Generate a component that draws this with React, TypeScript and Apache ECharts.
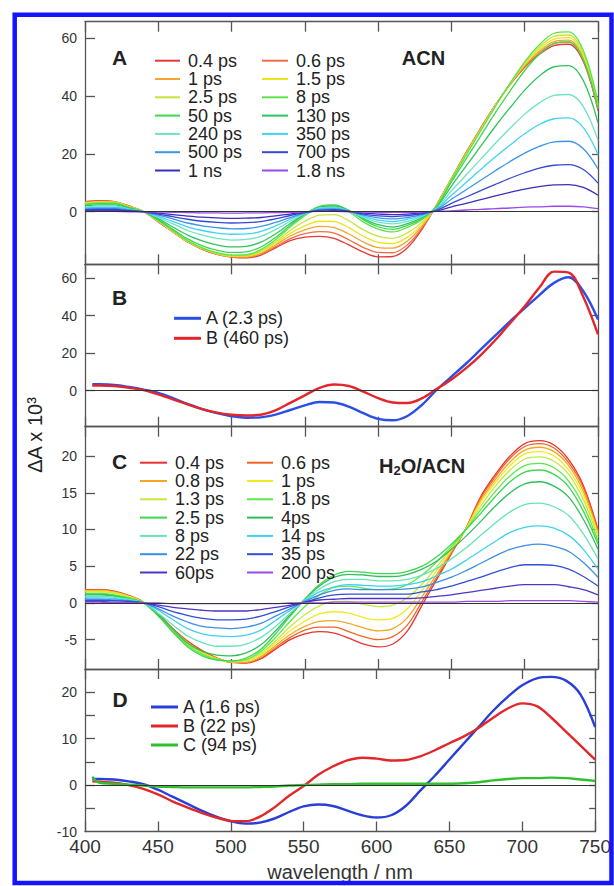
import React, { useEffect, useRef } from 'react';
import * as echarts from 'echarts';

// ---------- data ----------
const WL = [400,410,420,430,440,450,460,470,480,490,500,510,520,530,540,550,560,570,580,590,600,610,620,630,640,650,660,670,680,690,700,710,720,730,740,750];
const WL_DAS = [405,410,420,430,440,450,460,470,480,490,500,510,520,530,540,550,560,570,580,590,600,610,620,630,640,650,660,670,680,690,700,710,720,730,740,750];

// Panel A (ACN)
const A_NAMES = ['0.4 ps','0.6 ps','1 ps','1.5 ps','2.5 ps','8 ps','50 ps','130 ps','240 ps','350 ps','500 ps','700 ps','1 ns','1.8 ns'];
const A_0_4PS = [3.5,3.8,3.5,2.0,0.0,-3.5,-7.0,-10.5,-13.0,-14.8,-15.7,-16.0,-15.0,-12.5,-10.0,-8.8,-8.5,-9.2,-11.5,-14.0,-15.6,-15.5,-12.5,-6.0,2.5,11.5,20.5,29,37,44,50,54.5,57.5,58,52,35];
const A_0_6PS = [3.4,3.7,3.4,1.9,0,-3.4,-6.9,-10.4,-12.9,-14.7,-15.6,-15.8,-14.7,-12.1,-9.3,-7.6,-6.9,-7.4,-9.7,-12.4,-14.1,-14.2,-11.4,-5.5,2.4,11.4,20.4,28.9,36.9,44.1,50.3,55.0,58.2,58.7,52.6,35.5];
const A_1PS = [3.2,3.5,3.3,1.8,0,-3.3,-6.8,-10.3,-12.8,-14.6,-15.5,-15.6,-14.4,-11.5,-8.4,-6.3,-5.1,-5.5,-7.7,-10.5,-12.4,-12.6,-10.1,-4.9,2.3,11.3,20.2,28.7,36.8,44.2,50.6,55.6,58.9,59.4,53.3,36.0];
const A_1_5PS = [3.0,3.4,3.3,1.8,0,-3.3,-6.8,-10.3,-12.8,-14.5,-15.4,-15.4,-14.0,-11.0,-7.5,-4.9,-3.3,-3.4,-5.5,-8.5,-10.6,-11.0,-8.8,-4.3,2.3,11.3,20.0,28.5,36.8,44.3,51.0,56.3,59.8,60.3,54.0,36.5];
const A_2_5PS = [2.8,3.2,3.2,1.7,0,-3.2,-6.7,-10.2,-12.7,-14.4,-15.2,-15.2,-13.6,-10.4,-6.5,-3.3,-1.2,-1.0,-3.1,-6.3,-8.5,-9.2,-7.3,-3.6,2.2,11.2,19.8,28.3,36.7,44.4,51.4,57.0,60.7,61.2,54.8,37.1];
const A_8PS = [2.6,3.0,3.0,1.5,0,-3.0,-6.5,-10.0,-12.5,-14.2,-15.0,-14.9,-13.1,-9.7,-5.3,-1.4,1.5,1.9,-0.1,-3.6,-6.0,-7.0,-5.4,-2.7,2.0,11.0,19.5,28.1,36.5,44.5,51.9,57.8,61.8,62.3,55.8,37.9];
const A_50PS = [2.4,2.8,2.8,1.4,0,-2.8,-6.1,-9.4,-11.8,-13.3,-14.1,-13.9,-12.2,-8.9,-4.7,-0.9,1.9,2.4,0.5,-2.8,-5.2,-6.1,-4.7,-2.4,1.9,10.3,18.3,26.3,34.3,41.8,48.9,54.5,58.3,58.8,52.6,35.7];
const A_130PS = [2.0,2.4,2.4,1.2,0,-2.4,-5.3,-8.1,-10.1,-11.5,-12.2,-12.0,-10.5,-7.7,-4.1,-0.8,1.6,2.0,0.4,-2.4,-4.5,-5.3,-4.1,-2.0,1.6,8.9,15.8,22.7,29.6,36.0,42.1,47.0,50.2,50.6,45.4,30.8];
const A_240PS = [1.6,2.0,2.0,1.0,0,-2.0,-4.2,-6.5,-8.1,-9.2,-9.8,-9.6,-8.5,-6.2,-3.3,-0.7,1.3,1.6,0.3,-2.0,-3.6,-4.2,-3.3,-1.6,1.3,7.2,12.7,18.2,23.7,28.9,33.8,37.7,40.3,40.6,36.4,24.7];
const A_350PS = [1.3,1.6,1.6,0.8,0,-1.6,-3.4,-5.2,-6.5,-7.4,-7.8,-7.7,-6.8,-4.9,-2.6,-0.5,1.0,1.3,0.3,-1.6,-2.9,-3.4,-2.6,-1.3,1.0,5.7,10.1,14.6,19.0,23.1,27.0,30.2,32.2,32.5,29.1,19.8];
const A_500PS = [1.0,1.2,1.2,0.6,0,-1.2,-2.5,-3.9,-4.9,-5.5,-5.9,-5.8,-5.1,-3.7,-2.0,-0.4,0.8,1.0,0.2,-1.2,-2.1,-2.5,-2.0,-1.0,0.8,4.3,7.6,10.9,14.2,17.4,20.3,22.6,24.2,24.4,21.8,14.8];
const A_700PS = [0.7,0.8,0.8,0.4,0,-0.8,-1.7,-2.6,-3.3,-3.7,-3.9,-3.8,-3.4,-2.5,-1.3,-0.3,0.5,0.7,0.1,-0.8,-1.4,-1.7,-1.3,-0.7,0.5,2.9,5.1,7.3,9.5,11.6,13.5,15.1,16.1,16.3,14.6,9.9];
const A_1NS = [0.4,0.5,0.5,0.2,0,-0.5,-1.0,-1.5,-1.9,-2.1,-2.3,-2.2,-2.0,-1.4,-0.8,-0.2,0.3,0.4,0.1,-0.5,-0.8,-1.0,-0.8,-0.4,0.3,1.7,2.9,4.2,5.5,6.7,7.8,8.7,9.3,9.4,8.4,5.7];
const A_1_8NS = [0.1,0.1,0.1,0,0,-0.1,-0.2,-0.3,-0.4,-0.4,-0.5,-0.4,-0.4,-0.3,-0.2,0,0.1,0.1,0,-0.1,-0.2,-0.2,-0.2,-0.1,0.1,0.3,0.6,0.8,1.1,1.3,1.6,1.7,1.9,1.9,1.7,1.1];
const A_VALUES = [A_0_4PS,A_0_6PS,A_1PS,A_1_5PS,A_2_5PS,A_8PS,A_50PS,A_130PS,A_240PS,A_350PS,A_500PS,A_700PS,A_1NS,A_1_8NS];

// Panel B (ACN decay-associated spectra)
const B_NAMES = ['A (2.3 ps)','B (460 ps)'];
const B_A = [3.4,3.4,3.1,2.0,0.6,-1.2,-4.0,-7.0,-9.8,-12.0,-13.6,-14.4,-14.2,-12.8,-10.3,-7.8,-6.0,-6.3,-8.5,-12.0,-15.0,-15.8,-13.5,-7.5,0.5,7.5,14.5,22,29.5,37,44,51,57.5,60.5,53,38];
const B_B = [2.7,2.8,2.5,1.5,0.3,-2.0,-4.6,-7.3,-9.8,-11.7,-12.8,-13.2,-12.8,-10.5,-6.5,-2.5,1.5,3.3,2.5,-0.5,-4.0,-6.3,-6.6,-4.0,1.0,6.0,12.0,19.0,27.0,36.0,45.0,55.0,63.5,63.0,50.0,30.0];
const B_VALUES = [B_A, B_B];

// Panel C (H2O/ACN)
const C_NAMES = ['0.4 ps','0.6 ps','0.8 ps','1 ps','1.3 ps','1.8 ps','2.5 ps','4ps','8 ps','14 ps','22 ps','35 ps','60ps','200 ps'];
const C_0_4PS = [1.8,1.8,1.6,1.0,0.1,-1.5,-3.5,-5.2,-6.5,-7.5,-8.1,-8.2,-7.6,-6.3,-5.0,-4.2,-3.9,-4.1,-4.8,-5.6,-6.0,-5.6,-3.8,-0.3,3.2,6.7,10.2,14.5,17.5,20.0,21.7,22.1,21.5,19.5,16.0,10.0];
const C_0_6PS = [1.7,1.7,1.5,1.0,0.1,-1.5,-3.6,-5.3,-6.6,-7.5,-8.1,-8.1,-7.5,-6.1,-4.7,-3.7,-3.3,-3.3,-3.9,-4.6,-5.0,-4.6,-3.0,0.2,3.5,6.8,10.2,14.3,17.2,19.7,21.3,21.7,21.1,19.1,15.7,9.8];
const C_0_8PS = [1.7,1.7,1.5,0.9,0.1,-1.6,-3.6,-5.4,-6.7,-7.6,-8.1,-8.1,-7.3,-5.8,-4.3,-3.2,-2.5,-2.4,-2.8,-3.4,-3.8,-3.5,-2.0,0.9,3.9,7.0,10.2,14.0,16.8,19.2,20.8,21.2,20.6,18.7,15.2,9.6];
const C_1PS = [1.6,1.6,1.4,0.9,0.1,-1.6,-3.7,-5.5,-6.8,-7.6,-8.0,-7.9,-7.1,-5.5,-3.8,-2.5,-1.5,-1.2,-1.4,-2.0,-2.3,-2.1,-0.8,1.7,4.4,7.2,10.1,13.7,16.4,18.7,20.3,20.6,20.0,18.1,14.7,9.3];
const C_1_3PS = [1.5,1.5,1.3,0.8,0.0,-1.7,-3.8,-5.6,-6.9,-7.7,-8.0,-7.8,-6.9,-5.2,-3.2,-1.6,-0.4,0.2,0.2,-0.2,-0.5,-0.3,0.7,2.6,4.9,7.4,10.1,13.2,15.9,18.1,19.6,19.9,19.3,17.5,14.1,8.9];
const C_1_8PS = [1.3,1.3,1.1,0.7,0.0,-1.7,-3.9,-5.8,-7.0,-7.7,-7.9,-7.7,-6.6,-4.7,-2.5,-0.5,1.1,2.1,2.3,2.0,1.8,1.9,2.5,3.8,5.6,7.7,10.0,12.7,15.2,17.3,18.7,19.0,18.4,16.6,13.3,8.4];
const C_2_5PS = [1.2,1.2,1.0,0.6,0.0,-1.8,-4.0,-6.0,-7.2,-7.8,-7.9,-7.5,-6.3,-4.2,-1.8,0.5,2.5,3.8,4.3,4.2,4.0,4.0,4.3,5.0,6.3,8.0,10.0,12.2,14.5,16.5,17.8,18.1,17.5,15.8,12.5,8.0];
const C_4PS = [1.1,1.1,0.9,0.5,0,-1.6,-3.6,-5.5,-6.6,-7.1,-7.2,-6.8,-5.7,-3.8,-1.6,0.5,2.3,3.5,3.9,3.8,3.6,3.6,3.9,4.6,5.7,7.3,9.1,11.1,13.2,15.0,16.2,16.5,15.9,14.4,11.4,7.3];
const C_8PS = [0.9,0.9,0.8,0.5,0,-1.4,-3.0,-4.5,-5.4,-5.9,-5.9,-5.6,-4.7,-3.2,-1.4,0.4,1.9,2.9,3.2,3.2,3.0,3.0,3.2,3.8,4.7,6.0,7.5,9.2,10.9,12.4,13.4,13.6,13.1,11.9,9.4,6.0];
const C_14PS = [0.7,0.7,0.6,0.3,0,-1.0,-2.3,-3.5,-4.2,-4.5,-4.6,-4.4,-3.7,-2.4,-1.0,0.3,1.5,2.2,2.5,2.4,2.3,2.3,2.5,2.9,3.7,4.6,5.8,7.1,8.4,9.6,10.3,10.5,10.2,9.2,7.3,4.6];
const C_22PS = [0.5,0.5,0.4,0.3,0,-0.8,-1.8,-2.6,-3.2,-3.4,-3.5,-3.3,-2.8,-1.8,-0.8,0.2,1.1,1.7,1.9,1.8,1.8,1.8,1.9,2.2,2.8,3.5,4.4,5.4,6.4,7.3,7.8,8.0,7.7,7.0,5.5,3.5];
const C_35PS = [0.3,0.3,0.3,0.2,0,-0.5,-1.2,-1.7,-2.1,-2.3,-2.3,-2.2,-1.8,-1.2,-0.5,0.1,0.7,1.1,1.2,1.2,1.2,1.2,1.2,1.5,1.8,2.3,2.9,3.5,4.2,4.8,5.2,5.2,5.1,4.6,3.6,2.3];
const C_60PS = [0.2,0.2,0.1,0.1,0,-0.3,-0.6,-0.8,-1.0,-1.1,-1.1,-1.1,-0.9,-0.6,-0.3,0.1,0.4,0.5,0.6,0.6,0.6,0.6,0.6,0.7,0.9,1.1,1.4,1.7,2.0,2.3,2.5,2.5,2.5,2.2,1.8,1.1];
const C_200PS = [0.1,0.1,0,0,0,0,-0.1,-0.1,-0.1,-0.1,-0.1,-0.1,-0.1,-0.1,0,0,0,0.1,0.1,0.1,0.1,0.1,0.1,0.1,0.1,0.1,0.2,0.2,0.2,0.3,0.3,0.3,0.3,0.3,0.2,0.1];
const C_VALUES = [C_0_4PS,C_0_6PS,C_0_8PS,C_1PS,C_1_3PS,C_1_8PS,C_2_5PS,C_4PS,C_8PS,C_14PS,C_22PS,C_35PS,C_60PS,C_200PS];

// Panel D (H2O/ACN decay-associated spectra)
const D_NAMES = ['A (1.6 ps)','B (22 ps)','C (94 ps)'];
const D_A = [1.3,1.3,1.2,0.8,0.2,-1.0,-2.5,-4.0,-5.5,-6.8,-7.8,-8.3,-8.1,-7.2,-5.8,-4.6,-4.2,-4.5,-5.5,-6.5,-7.0,-6.5,-4.5,-1.2,2.0,5.5,9.0,12.5,16.0,19.0,21.5,23.0,23.3,22.5,19.5,12.5];
const D_B = [0.8,0.7,0.5,0.0,-0.8,-2.0,-3.5,-4.8,-6.0,-7.0,-7.7,-7.8,-6.8,-4.8,-2.3,-0.2,2.2,4.0,5.3,5.9,5.7,5.3,5.4,6.2,7.5,9.0,10.5,12.3,14.5,16.5,17.6,17.0,14.5,11.5,8.5,5.5];
const D_C = [1.8,0.5,0.3,0.1,-0.1,-0.3,-0.4,-0.5,-0.5,-0.5,-0.5,-0.5,-0.4,-0.3,-0.1,0,0.1,0.2,0.2,0.3,0.3,0.3,0.3,0.3,0.3,0.3,0.4,0.6,1.0,1.3,1.5,1.5,1.6,1.5,1.2,0.9];
const D_VALUES = [D_A, D_B, D_C];

// axis ticks / labels
const X_TICK_STEP = 50;
const A_Y_TICKS = [0, 20, 40, 60];
const B_Y_TICKS = [0, 20, 40, 60];
const C_Y_TICKS = [-5, 0, 5, 10, 15, 20];
const D_Y_TICKS = [-5, 0, 5, 10, 15, 20];
const D_Y_LABELS = [-10, 0, 10, 20];

// ---------- styles ----------
const FONT = '"Liberation Sans", Arial, Helvetica, sans-serif';
const A_COLORS = ['#e23a3a','#ef6e45','#f4a433','#efe31e','#c4e63a','#5ee24a','#3fd84a','#30c45e','#6fe3c3','#3fd4f2','#3a96e6','#3748d6','#3a2fb8','#9a48e8'];
const B_COLORS = ['#2a4fe6','#e3262a'];
const C_COLORS = ['#e8322e','#f06428','#f5a623','#f2ea22','#c4ea3c','#5ee84a','#3ed84e','#2fbf5a','#66e3b8','#3fd2f0','#3a8fe6','#2f4fd8','#4b35c6','#9b4ae6'];
const D_COLORS = ['#2a3fd8','#e3262a','#2fbf2f'];
const AXIS_COLOR = '#555';

const PANELS = [
  { top: 21.7, height: 242.6, min: -18.2, max: 65.8, ticks: A_Y_TICKS, labels: A_Y_TICKS },
  { top: 264.3, height: 162.4, min: -19.2, max: 67.4, ticks: B_Y_TICKS, labels: B_Y_TICKS },
  { top: 426.7, height: 242.3, min: -9, max: 24, ticks: C_Y_TICKS, labels: C_Y_TICKS },
  { top: 669, height: 162.5, min: -10, max: 25, ticks: D_Y_TICKS, labels: D_Y_LABELS },
];

function lineSeries(name: string, color: string, xs: number[], vals: number[], g: number, width: number) {
  return {
    type: 'line', name, xAxisIndex: 2 * g, yAxisIndex: 2 * g,
    data: xs.map((x, i) => [x, vals[i]]),
    showSymbol: false, symbol: 'none', smooth: 0.35,
    lineStyle: { color, width }, itemStyle: { color },
    emphasis: { disabled: true }, silent: true, z: 3,
  };
}

function zeroLine(g: number) {
  return {
    type: 'line', xAxisIndex: 2 * g, yAxisIndex: 2 * g, data: [], silent: true, z: 2,
    markLine: {
      silent: true, symbol: ['none', 'none'], label: { show: false },
      lineStyle: { color: '#333', width: 1, type: 'solid' },
      emphasis: { disabled: true },
      data: [{ yAxis: 0 }],
    },
  };
}

function legendBlock(left: number, top: number, names: string[], colors: string[], w: number, h: number, gap: number, pad: number) {
  return {
    show: true, orient: 'vertical', left, top, padding: 0, itemGap: gap,
    itemWidth: w, itemHeight: h, icon: 'rect', selectedMode: false,
    data: names.map((n, i) => ({ name: n, itemStyle: { color: colors[i], borderWidth: 0 } })),
    textStyle: { fontSize: 18, lineHeight: 18, color: '#222', fontFamily: FONT, padding: [0, 0, 0, pad] },
  };
}

function pick<T>(arr: T[], parity: number) {
  return arr.filter((_, i) => i % 2 === parity);
}

function buildOption() {
  const grid = PANELS.map((p) => ({ left: 85, width: 513, top: p.top, height: p.height, show: false }));
  const axisLine = { show: true, onZero: false, lineStyle: { color: AXIS_COLOR, width: 1.3 } };
  const xAxis: any[] = [];
  const yAxis: any[] = [];
  PANELS.forEach((p, g) => {
    const last = g === PANELS.length - 1;
    xAxis.push({
      type: 'value', gridIndex: g, position: 'bottom', min: 400, max: 750, interval: X_TICK_STEP,
      axisLine, axisTick: { show: true, inside: true, length: 10, lineStyle: { color: AXIS_COLOR, width: 1.3 } },
      axisLabel: last ? { show: true, fontSize: 19, color: '#333', margin: 5, fontFamily: FONT } : { show: false },
      splitLine: { show: false },
      name: last ? 'wavelength / nm' : '', nameLocation: 'middle', nameGap: 30,
      nameTextStyle: { fontSize: 20, color: '#333', fontFamily: FONT },
    });
    xAxis.push({
      type: 'value', gridIndex: g, position: 'top', min: 400, max: 750, interval: X_TICK_STEP,
      axisLine, axisTick: { show: true, inside: true, length: 10, lineStyle: { color: AXIS_COLOR, width: 1.3 } },
      axisLabel: { show: false }, splitLine: { show: false },
    });
    yAxis.push({
      type: 'value', gridIndex: g, position: 'left', min: p.min, max: p.max,
      axisLine, axisTick: { show: true, inside: true, length: 10, customValues: p.ticks, lineStyle: { color: AXIS_COLOR, width: 1.3 } },
      axisLabel: { show: true, customValues: p.labels, fontSize: 14, color: '#333', margin: 8, fontFamily: FONT },
      splitLine: { show: false },
    });
    yAxis.push({
      type: 'value', gridIndex: g, position: 'right', min: p.min, max: p.max,
      axisLine, axisTick: { show: true, inside: true, length: 6, customValues: p.ticks, lineStyle: { color: AXIS_COLOR, width: 1.3 } },
      axisLabel: { show: false }, splitLine: { show: false },
    });
  });

  const series: any[] = [];
  [0, 1, 2, 3].forEach((g) => series.push(zeroLine(g)));
  A_NAMES.forEach((n, i) => series.push(lineSeries(n, A_COLORS[i], WL, A_VALUES[i], 0, 1.3)));
  B_NAMES.forEach((n, i) => series.push(lineSeries(n, B_COLORS[i], WL_DAS, B_VALUES[i], 1, 2.4)));
  C_NAMES.forEach((n, i) => series.push(lineSeries(n, C_COLORS[i], WL, C_VALUES[i], 2, 1.3)));
  D_NAMES.forEach((n, i) => series.push(lineSeries(n, D_COLORS[i], WL_DAS, D_VALUES[i], 3, 2.4)));

  const legend = [
    legendBlock(155, 51.7, pick(A_NAMES, 0), pick(A_COLORS, 0), 25, 2, 0.3, 3),
    legendBlock(262, 51.7, pick(A_NAMES, 1), pick(A_COLORS, 1), 26, 2, 0.3, 3),
    legendBlock(174, 309.3, B_NAMES, B_COLORS, 27, 3, 2, 0),
    legendBlock(140, 453.7, pick(C_NAMES, 0), pick(C_COLORS, 0), 27, 2, 0.3, 3),
    legendBlock(247, 453.7, pick(C_NAMES, 1), pick(C_COLORS, 1), 26, 2, 0.3, 3),
    legendBlock(151, 698, D_NAMES, D_COLORS, 27, 3, 1, 0),
  ];

  const bold = (size: number) => ({ fontSize: size, fontWeight: 'bold', fontFamily: FONT, fill: '#222' });
  const graphic = [
    { type: 'rect', silent: true, z: 100, shape: { x: 14.7, y: 14.7, width: 596.8, height: 868.3 },
      style: { fill: 'none', stroke: '#1414ff', lineWidth: 4.5 } },
    { type: 'text', x: 119.5, y: 57.5, style: { text: 'A', ...bold(21), align: 'center', verticalAlign: 'middle', textAlign: 'center', textVerticalAlign: 'middle' } },
    { type: 'text', x: 119.5, y: 297, style: { text: 'B', ...bold(21), align: 'center', verticalAlign: 'middle', textAlign: 'center', textVerticalAlign: 'middle' } },
    { type: 'text', x: 119.5, y: 461, style: { text: 'C', ...bold(21), align: 'center', verticalAlign: 'middle', textAlign: 'center', textVerticalAlign: 'middle' } },
    { type: 'text', x: 120, y: 699, style: { text: 'D', ...bold(21), align: 'center', verticalAlign: 'middle', textAlign: 'center', textVerticalAlign: 'middle' } },
    { type: 'text', x: 423.5, y: 58.3, style: { text: 'ACN', ...bold(20), align: 'center', verticalAlign: 'middle', textAlign: 'center', textVerticalAlign: 'middle' } },
    { type: 'text', x: 422, y: 466, style: {
      text: '{b|H}{s|2}{b|O/ACN}', align: 'center', verticalAlign: 'middle', textAlign: 'center', textVerticalAlign: 'middle',
      rich: {
        b: { ...bold(20), color: '#222' },
        s: { fontSize: 13, fontWeight: 'bold', fontFamily: FONT, fill: '#222', color: '#222', padding: [9, 0, 0, 0] },
      } } },
    { type: 'text', x: 35, y: 435, rotation: Math.PI / 2, style: {
      text: 'ΔA x 10³', fontSize: 20, fontFamily: FONT, fill: '#222', align: 'center', verticalAlign: 'middle', textAlign: 'center', textVerticalAlign: 'middle' } },
  ];

  return {
    animation: false,
    backgroundColor: '#ffffff',
    textStyle: { fontFamily: FONT },
    grid, xAxis, yAxis, series, legend, graphic,
  };
}

export default function App() {
  const ref = useRef<HTMLDivElement>(null);
  useEffect(() => {
    if (!ref.current) return;
    const chart = echarts.init(ref.current, null, { renderer: 'svg' });
    chart.setOption(buildOption() as any);
    return () => chart.dispose();
  }, []);
  return <div ref={ref} style={{ position: 'fixed', left: 0, top: 0, width: 614, height: 886, background: '#fff' }} />;
}
